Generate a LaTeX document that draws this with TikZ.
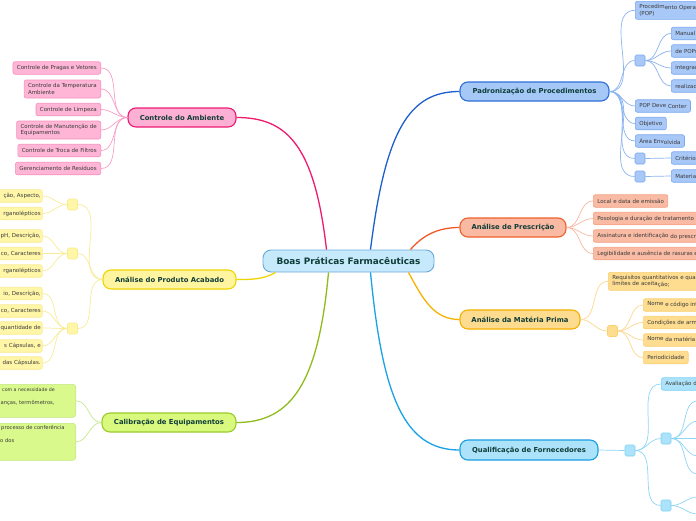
\documentclass[tikz,border=0pt]{standalone}
\usepackage{fontspec}
\setmainfont{DejaVu Sans}
\usetikzlibrary{calc}
\definecolor{maintxt}{HTML}{0F3D3A}
\definecolor{leaftxt}{HTML}{3A3A3A}
\definecolor{cenF}{HTML}{C6E9FB}\definecolor{cenD}{HTML}{6AA8D8}
\definecolor{pinkF}{HTML}{FDB0D3}\definecolor{pinkD}{HTML}{EC1A72}\definecolor{pinkE}{HTML}{EE1B6E}
\definecolor{pinkLF}{HTML}{FFB6D6}\definecolor{pinkLD}{HTML}{F590BF}\definecolor{pinkS}{HTML}{F9A0C8}
\definecolor{yelF}{HTML}{FFF5A0}\definecolor{yelD}{HTML}{F0D500}\definecolor{yelE}{HTML}{F0D400}
\definecolor{yelLF}{HTML}{FFF6A8}\definecolor{yelLD}{HTML}{F8EB90}\definecolor{yelS}{HTML}{F8EC98}
\definecolor{grnF}{HTML}{D8F97E}\definecolor{grnD}{HTML}{9ACB2A}\definecolor{grnE}{HTML}{90BC1C}
\definecolor{grnLF}{HTML}{D9F98C}\definecolor{grnLD}{HTML}{C4E880}\definecolor{grnS}{HTML}{C8E890}
\definecolor{bluF}{HTML}{A5C8F7}\definecolor{bluD}{HTML}{2E6FDB}\definecolor{bluE}{HTML}{1D5FCC}
\definecolor{bluLF}{HTML}{A8C8F8}\definecolor{bluLD}{HTML}{7AA8EE}\definecolor{bluS}{HTML}{8CB4F0}
\definecolor{salF}{HTML}{F9B9A2}\definecolor{salD}{HTML}{F0602C}\definecolor{salE}{HTML}{F05A28}
\definecolor{salLF}{HTML}{F9BBA4}\definecolor{salLD}{HTML}{F4A082}\definecolor{salS}{HTML}{F8B8A0}
\definecolor{orgF}{HTML}{FEDC8F}\definecolor{orgD}{HTML}{F5B000}\definecolor{orgE}{HTML}{F5B300}
\definecolor{orgLF}{HTML}{FEDC90}\definecolor{orgLD}{HTML}{FCD070}\definecolor{orgS}{HTML}{FCD890}
\definecolor{cyaF}{HTML}{ADE3FA}\definecolor{cyaD}{HTML}{1A9EE0}\definecolor{cyaE}{HTML}{19A2E6}
\definecolor{cyaLF}{HTML}{ADE3FA}\definecolor{cyaLD}{HTML}{7CD0F4}\definecolor{cyaS}{HTML}{8ED6F6}
\tikzset{
  mainnode/.style={draw, rounded corners=8pt, line width=1.1pt, minimum height=19pt, inner sep=0pt, text=maintxt, font=\fontsize{6.85}{8}\selectfont\bfseries},
  leafnode/.style={draw, rounded corners=2pt, line width=0.6pt, minimum height=12.5pt, inner xsep=4pt, inner ysep=1pt, text=leaftxt, font=\fontsize{5.5}{6.6}\selectfont, align=left},
  sqnode/.style={draw, rounded corners=1.5pt, line width=0.6pt, minimum width=10pt, minimum height=11pt, inner sep=0pt},
  mainedge/.style={line width=1.3pt},
  subedge/.style={line width=0.7pt},
  lnk/.style={out=0, in=180},
  cutL/.style={leafnode, anchor=east, text width=70pt, align=right, inner xsep=1.5pt},
  cutR/.style={leafnode, anchor=west, text width=60pt},
  caltext/.style={font=\fontsize{5.2}{6.3}\selectfont, text=leaftxt, inner sep=0pt, anchor=base west},
  pinkM/.style={fill=pinkF, draw=pinkD}, pinkL/.style={fill=pinkLF, draw=pinkLD},
  yelM/.style={fill=yelF, draw=yelD}, yelL/.style={fill=yelLF, draw=yelLD},
  grnM/.style={fill=grnF, draw=grnD}, grnL/.style={fill=grnLF, draw=grnLD},
  bluM/.style={fill=bluF, draw=bluD}, bluL/.style={fill=bluLF, draw=bluLD},
  salM/.style={fill=salF, draw=salD}, salL/.style={fill=salLF, draw=salLD},
  orgM/.style={fill=orgF, draw=orgD}, orgL/.style={fill=orgLF, draw=orgLD},
  cyaM/.style={fill=cyaF, draw=cyaD}, cyaL/.style={fill=cyaLF, draw=cyaLD},
}
\begin{document}
\begin{tikzpicture}[x=1pt,y=-1pt]
\useasboundingbox (0,0) rectangle (696,520);
\begin{scope}
\clip (0,0) rectangle (696,520);
\fill[white] (0,0) rectangle (696,520);
% central
\node[mainnode, fill=cenF, draw=cenD, line width=0.9pt, minimum width=171pt, minimum height=22pt, font=\fontsize{8.9}{10}\selectfont\bfseries] (c) at (348.5,261) {Boas Práticas Farmacêuticas};
% main branches
\node[mainnode, bluM, minimum width=149pt] (pad) at (534.5,91.5) {Padronização de Procedimentos};
\node[mainnode, salM, minimum width=106pt] (pres) at (513,227.5) {Análise de Prescrição};
\node[mainnode, orgM, minimum width=120pt] (mat) at (520,319.5) {Análise da Matéria Prima};
\node[mainnode, cyaM, minimum width=138pt, minimum height=20pt] (qual) at (529,450) {Qualificação de Fornecedores};
\node[mainnode, pinkM, minimum width=108pt] (amb) at (182,117.5) {Controle do Ambiente};
\node[mainnode, yelM, minimum width=133pt] (acab) at (169.5,279.5) {Análise do Produto Acabado};
\node[mainnode, grnM, minimum width=134pt] (cal) at (169,422.5) {Calibração de Equipamentos};
% main edges
\draw[mainedge, draw=bluE] ([xshift=22pt]c.north) .. controls +(15,-120) and +(-50,0) .. (pad.west);
\draw[mainedge, draw=salE] ([xshift=62pt]c.north) .. controls +(12,-14) and +(-22,0) .. (pres.west);
\draw[mainedge, draw=orgE] ([xshift=60pt]c.south) .. controls +(15,28) and +(-25,0) .. (mat.west);
\draw[mainedge, draw=cyaE] ([xshift=22pt]c.south) .. controls +(12,125) and +(-55,0) .. (qual.west);
\draw[mainedge, draw=pinkE] ([xshift=-22pt]c.north) .. controls +(-12,-105) and +(50,0) .. (amb.east);
\draw[mainedge, draw=yelE] ([xshift=-73pt]c.south) .. controls +(-12,7) and +(15,0) .. (acab.east);
\draw[mainedge, draw=grnE] ([xshift=-20pt]c.south) .. controls +(-10,110) and +(55,0) .. (cal.east);
% Controle do Ambiente
\node[leafnode, pinkL, anchor=east] (p1) at (101,68) {Controle de Pragas e Vetores};
\node[leafnode, pinkL, anchor=east, minimum height=18pt] (p2) at (101,89) {Controle da Temperatura\\Ambiente};
\node[leafnode, pinkL, anchor=east] (p3) at (101,109.5) {Controle de Limpeza};
\node[leafnode, pinkL, anchor=east, minimum height=18pt] (p4) at (101,130) {Controle de Manutenção de\\Equipamentos};
\node[leafnode, pinkL, anchor=east] (p5) at (101,150.5) {Controle de Troca de Filtros};
\node[leafnode, pinkL, anchor=east] (p6) at (101,168.5) {Gerenciamento de Resíduos};
\foreach \n in {p1,p2,p3,p4,p5,p6}
  \draw[subedge, draw=pinkS] (\n.east) to[lnk] (amb.west);
% Analise do Produto Acabado
\node[sqnode, yelL] (ya1) at (72.5,204.5) {};
\node[sqnode, yelL] (ya2) at (72.5,253.5) {};
\node[sqnode, yelL] (ya3) at (72.5,328.5) {};
\node[cutL, yelL] (y1a) at (42.5,196) {ção, Aspecto,};
\node[cutL, yelL] (y1b) at (42.5,213.5) {rganolépticos};
\node[cutL, yelL] (y2a) at (42.5,236) {pH, Descrição,};
\node[cutL, yelL] (y2b) at (42.5,253.5) {co, Caracteres};
\node[cutL, yelL] (y2c) at (42.5,271) {rganolépticos};
\node[cutL, yelL] (y3a) at (42.5,293.5) {io, Descrição,};
\node[cutL, yelL] (y3b) at (42.5,311) {co, Caracteres};
\node[cutL, yelL] (y3c) at (42.5,328) {quantidade de};
\node[cutL, yelL] (y3d) at (42.5,346) {s Cápsulas, e};
\node[cutL, yelL] (y3e) at (42.5,363) {das Cápsulas.};
\foreach \s in {ya1,ya2,ya3}
  \draw[subedge, draw=yelS] (\s.east) to[lnk] (acab.west);
\foreach \n in {y1a,y1b}
  \draw[subedge, draw=yelS] (\n.east) to[lnk] (ya1.west);
\foreach \n in {y2a,y2b,y2c}
  \draw[subedge, draw=yelS] (\n.east) to[lnk] (ya2.west);
\foreach \n in {y3a,y3b,y3c,y3d,y3e}
  \draw[subedge, draw=yelS] (\n.east) to[lnk] (ya3.west);
% Calibracao
\node[leafnode, grnL, anchor=north east, minimum width=90pt, minimum height=33pt, rounded corners=3pt] (calA) at (76,384) {};
\node[leafnode, grnL, anchor=north east, minimum width=90pt, minimum height=37pt, rounded corners=3pt] (calB) at (76,423) {};
\node[caltext, font=\fontsize{4.7}{6}\selectfont] (calA1) at (2,391.5) {com a necessidade de};
\node[caltext] (calA2) at (-1,404.5) {lanças, termômetros,};
\node[caltext] (calB1) at (1,429.5) {processo de conferência};
\node[caltext] (calB2) at (0,442.5) {o dos};
\draw[subedge, draw=grnS] (calA.east) to[lnk] (cal.west);
\draw[subedge, draw=grnS] (calB.east) to[lnk] (cal.west);
% Padronizacao
\node[leafnode, bluL, anchor=north west, minimum height=18pt, text width=70pt] (b1) at (635,1) {Procedim\raisebox{-0.7pt}{ento Operacional}\\(POP)};
\node[sqnode, bluL] (bsq1) at (640,60.5) {};
\node[cutR, bluL] (b1a) at (671,33.5) {Manual};
\node[cutR, bluL] (b1b) at (671,51) {de POPs};
\node[cutR, bluL] (b1c) at (671,68) {integração};
\node[cutR, bluL] (b1d) at (671,86) {realizado};
\node[leafnode, bluL, anchor=west] (b2) at (635,106) {POP Deve \raisebox{-1pt}{Conter}};
\node[leafnode, bluL, anchor=west] (b3) at (635,123.5) {Objetivo};
\node[leafnode, bluL, anchor=west] (b4) at (635,141) {Área Env\raisebox{-1pt}{olvida}};
\node[sqnode, bluL] (bsq2) at (640,158.5) {};
\node[sqnode, bluL] (bsq3) at (640,176.5) {};
\node[cutR, bluL] (b5) at (671,158) {Critérios};
\node[cutR, bluL] (b6) at (671,176) {Materiais};
\foreach \n in {b1,bsq1,b2,b3,b4,bsq2,bsq3}
  \draw[subedge, draw=bluS] (pad.east) to[lnk] (\n.west);
\foreach \n in {b1a,b1b,b1c,b1d}
  \draw[subedge, draw=bluS] (bsq1.east) to[lnk] (\n.west);
\draw[subedge, draw=bluS] (bsq2.east) -- (b5.west);
\draw[subedge, draw=bluS] (bsq3.east) -- (b6.west);
% Prescricao
\node[leafnode, salL, anchor=west] (r1) at (593,201) {Local e data de emissão};
\node[leafnode, salL, anchor=west] (r2) at (593,218.5) {Posologia e duração de tratamento};
\node[leafnode, salL, anchor=west] (r3) at (593,236) {Assinatura e identificação\raisebox{-1pt}{ do prescritor}};
\node[leafnode, salL, anchor=west] (r4) at (593,253.5) {Legibilidade e ausência de rasuras e emendas};
\foreach \n in {r1,r2,r3,r4}
  \draw[subedge, draw=salS] (pres.east) to[lnk] (\n.west);
% Materia Prima
\node[leafnode, orgL, anchor=north west, minimum height=18pt] (m1) at (608,272) {Requisitos quantitativos e qualitativos com\\limites de aceita\raisebox{-1pt}{ção;}};
\node[sqnode, orgL] (msq) at (612.5,331) {};
\node[leafnode, orgL, anchor=west] (m2) at (643,305) {Nome \raisebox{-1pt}{e código interno}};
\node[leafnode, orgL, anchor=west] (m3) at (643,322.5) {Condições de armazenamento};
\node[leafnode, orgL, anchor=west] (m4) at (643,340) {Nome \raisebox{-1pt}{da matéria prima}};
\node[leafnode, orgL, anchor=west] (m5) at (643,357.5) {Periodicidade};
\draw[subedge, draw=orgS] (mat.east) to[lnk] (m1.west);
\draw[subedge, draw=orgS] (mat.east) to[lnk] (msq.west);
\foreach \n in {m2,m3,m4,m5}
  \draw[subedge, draw=orgS] (msq.east) to[lnk] (\n.west);
% Qualificacao
\node[sqnode, cyaL] (qsq1) at (630,450.5) {};
\node[leafnode, cyaL, anchor=west] (q1) at (661,384) {Avaliação do fornecedor};
\node[sqnode, cyaL] (qsq2) at (666,438.5) {};
\node[sqnode, cyaL] (qsq3) at (666,505.5) {};
\coordinate (qa) at (698,401);
\coordinate (qb) at (698,421);
\coordinate (qc) at (698,438.5);
\coordinate (qd) at (698,456);
\coordinate (qe) at (698,474);
\coordinate (qf) at (698,497);
\coordinate (qg) at (698,514);
\draw[subedge, draw=cyaS] (qual.east) -- (qsq1.west);
\foreach \n in {q1,qsq2,qsq3}
  \draw[subedge, draw=cyaS] (qsq1.east) to[lnk] (\n.west);
\foreach \n in {qa,qb,qc,qd,qe}
  \draw[subedge, draw=cyaS] (qsq2.east) to[lnk] (\n);
\foreach \n in {qf,qg}
  \draw[subedge, draw=cyaS] (qsq3.east) to[lnk] (\n);
\end{scope}
\end{tikzpicture}
\end{document}
